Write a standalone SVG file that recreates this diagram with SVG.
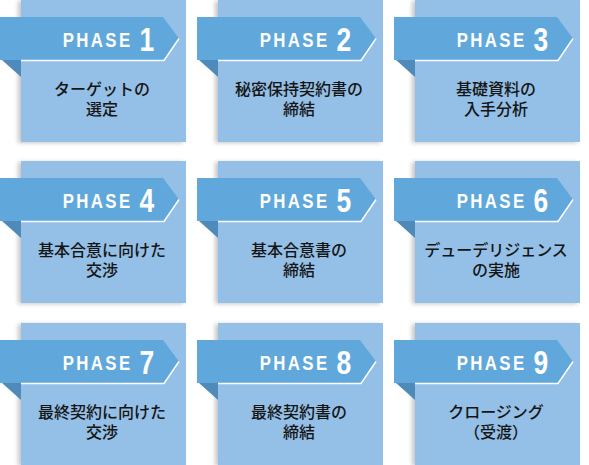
<svg xmlns="http://www.w3.org/2000/svg" width="589" height="465" viewBox="0 0 589 465">
<defs>
<filter id="sh" x="-10%" y="-10%" width="120%" height="120%">
<feDropShadow dx="-3" dy="1" stdDeviation="2.2" flood-color="#000" flood-opacity="0.22"/>
</filter>
<style>
.card{fill:#94bfe6;filter:url(#sh)}
.ribbon{fill:#60a8dc}
.fold{fill:#4f8aba}
.hl{fill:none;stroke:#fff;stroke-width:1.5}
.ph{font-family:"Liberation Sans",Arial,sans-serif;font-weight:bold;font-size:21px;letter-spacing:3px;fill:#fff}
.num{font-family:"Liberation Sans",Arial,sans-serif;font-weight:bold;font-size:33px;fill:#fff}
.body{font-family:"Noto Sans CJK JP","Noto Sans CJK SC",sans-serif;font-size:16px;font-weight:500;fill:#151515;text-anchor:middle}
</style>
</defs>
<rect width="589" height="465" fill="#fff"/>
<g id="connectors"/>
<g id="phase1" transform="translate(21,0)">
<rect class="card" x="0" y="0" width="165" height="142"/>
<path class="fold" d="M-19,60 H0 V77 Z"/>
<path class="ribbon" d="M-21,17 H142 L158,38.5 L143,60 H-21 Z"/>
<path class="hl" d="M0,60.5 H143 L158,38.5"/>
<text class="ph" transform="translate(41.7,47.3) scale(0.8,1)">PHASE</text>
<text class="num" transform="translate(118.5,50.7) scale(0.8,1)">1</text>
<text class="body"><tspan x="81" y="95">ターゲットの</tspan><tspan x="81" y="115">選定</tspan></text>
</g>
<g id="phase2" transform="translate(218,0)">
<rect class="card" x="0" y="0" width="165" height="142"/>
<path class="fold" d="M-19,60 H0 V77 Z"/>
<path class="ribbon" d="M-21,17 H142 L158,38.5 L143,60 H-21 Z"/>
<path class="hl" d="M0,60.5 H143 L158,38.5"/>
<text class="ph" transform="translate(41.7,47.3) scale(0.8,1)">PHASE</text>
<text class="num" transform="translate(118.5,50.7) scale(0.8,1)">2</text>
<text class="body"><tspan x="81" y="95">秘密保持契約書の</tspan><tspan x="81" y="115">締結</tspan></text>
</g>
<g id="phase3" transform="translate(415,0)">
<rect class="card" x="0" y="0" width="165" height="142"/>
<path class="fold" d="M-19,60 H0 V77 Z"/>
<path class="ribbon" d="M-21,17 H142 L158,38.5 L143,60 H-21 Z"/>
<path class="hl" d="M0,60.5 H143 L158,38.5"/>
<text class="ph" transform="translate(41.7,47.3) scale(0.8,1)">PHASE</text>
<text class="num" transform="translate(118.5,50.7) scale(0.8,1)">3</text>
<text class="body"><tspan x="81" y="95">基礎資料の</tspan><tspan x="81" y="115">入手分析</tspan></text>
</g>
<g id="phase4" transform="translate(21,161)">
<rect class="card" x="0" y="0" width="165" height="142"/>
<path class="fold" d="M-19,60 H0 V77 Z"/>
<path class="ribbon" d="M-21,17 H142 L158,38.5 L143,60 H-21 Z"/>
<path class="hl" d="M0,60.5 H143 L158,38.5"/>
<text class="ph" transform="translate(41.7,47.3) scale(0.8,1)">PHASE</text>
<text class="num" transform="translate(118.5,50.7) scale(0.8,1)">4</text>
<text class="body"><tspan x="81" y="95">基本合意に向けた</tspan><tspan x="81" y="115">交渉</tspan></text>
</g>
<g id="phase5" transform="translate(218,161)">
<rect class="card" x="0" y="0" width="165" height="142"/>
<path class="fold" d="M-19,60 H0 V77 Z"/>
<path class="ribbon" d="M-21,17 H142 L158,38.5 L143,60 H-21 Z"/>
<path class="hl" d="M0,60.5 H143 L158,38.5"/>
<text class="ph" transform="translate(41.7,47.3) scale(0.8,1)">PHASE</text>
<text class="num" transform="translate(118.5,50.7) scale(0.8,1)">5</text>
<text class="body"><tspan x="81" y="95">基本合意書の</tspan><tspan x="81" y="115">締結</tspan></text>
</g>
<g id="phase6" transform="translate(415,161)">
<rect class="card" x="0" y="0" width="165" height="142"/>
<path class="fold" d="M-19,60 H0 V77 Z"/>
<path class="ribbon" d="M-21,17 H142 L158,38.5 L143,60 H-21 Z"/>
<path class="hl" d="M0,60.5 H143 L158,38.5"/>
<text class="ph" transform="translate(41.7,47.3) scale(0.8,1)">PHASE</text>
<text class="num" transform="translate(118.5,50.7) scale(0.8,1)">6</text>
<text class="body"><tspan x="81" y="95">デューデリジェンス</tspan><tspan x="81" y="115">の実施</tspan></text>
</g>
<g id="phase7" transform="translate(21,323)">
<rect class="card" x="0" y="0" width="165" height="142"/>
<path class="fold" d="M-19,60 H0 V77 Z"/>
<path class="ribbon" d="M-21,17 H142 L158,38.5 L143,60 H-21 Z"/>
<path class="hl" d="M0,60.5 H143 L158,38.5"/>
<text class="ph" transform="translate(41.7,47.3) scale(0.8,1)">PHASE</text>
<text class="num" transform="translate(118.5,50.7) scale(0.8,1)">7</text>
<text class="body"><tspan x="81" y="95">最終契約に向けた</tspan><tspan x="81" y="115">交渉</tspan></text>
</g>
<g id="phase8" transform="translate(218,323)">
<rect class="card" x="0" y="0" width="165" height="142"/>
<path class="fold" d="M-19,60 H0 V77 Z"/>
<path class="ribbon" d="M-21,17 H142 L158,38.5 L143,60 H-21 Z"/>
<path class="hl" d="M0,60.5 H143 L158,38.5"/>
<text class="ph" transform="translate(41.7,47.3) scale(0.8,1)">PHASE</text>
<text class="num" transform="translate(118.5,50.7) scale(0.8,1)">8</text>
<text class="body"><tspan x="81" y="95">最終契約書の</tspan><tspan x="81" y="115">締結</tspan></text>
</g>
<g id="phase9" transform="translate(415,323)">
<rect class="card" x="0" y="0" width="165" height="142"/>
<path class="fold" d="M-19,60 H0 V77 Z"/>
<path class="ribbon" d="M-21,17 H142 L158,38.5 L143,60 H-21 Z"/>
<path class="hl" d="M0,60.5 H143 L158,38.5"/>
<text class="ph" transform="translate(41.7,47.3) scale(0.8,1)">PHASE</text>
<text class="num" transform="translate(118.5,50.7) scale(0.8,1)">9</text>
<text class="body"><tspan x="81" y="95">クロージング</tspan><tspan x="81" y="115">（受渡）</tspan></text>
</g>
</svg>
